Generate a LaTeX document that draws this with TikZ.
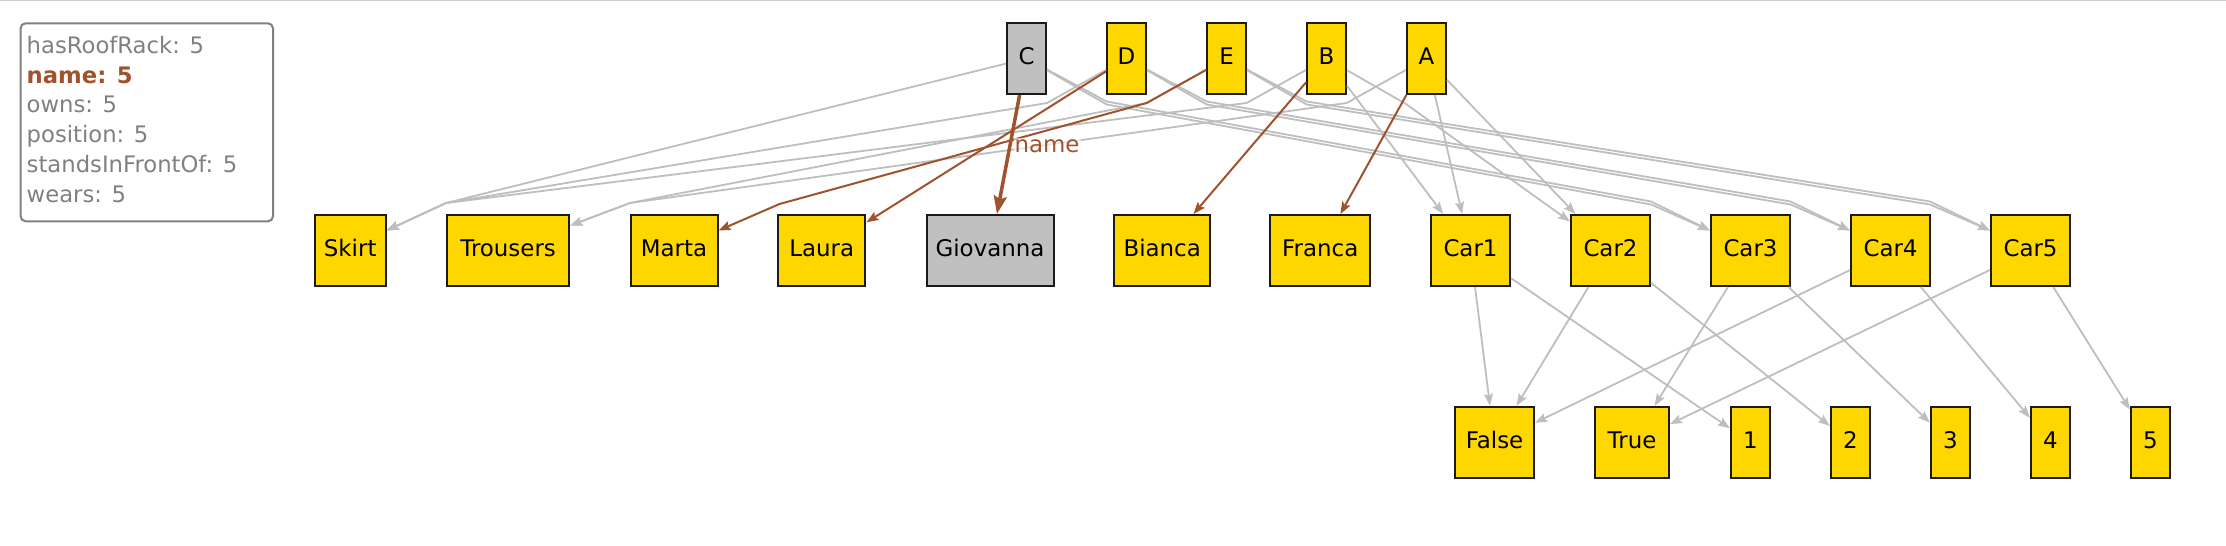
\documentclass[tikz,border=0pt]{standalone}
\usepackage{fontspec}
\setmainfont{DejaVu Sans}
\usetikzlibrary{arrows.meta}
\definecolor{gold}{HTML}{FFD700}
\definecolor{nodegray}{HTML}{C0C0C0}
\definecolor{boxline}{HTML}{1A1A1A}
\definecolor{edgegray}{HTML}{BEBEBE}
\definecolor{sienna}{HTML}{A0522D}
\definecolor{legendgray}{HTML}{808080}
\definecolor{topgray}{HTML}{CCCCCC}

\begin{document}
\begin{tikzpicture}[x=1bp,y=-1bp,
		box/.style={draw=boxline, line width=2bp, fill=gold, inner sep=0pt, minimum height=71bp,
			font=\fontsize{23}{27}\selectfont, text height=17bp, text depth=5bp},
		gedge/.style={draw=edgegray, line width=1.8bp, -{Stealth[length=12bp,width=9bp,inset=2bp]}},
		nedge/.style={draw=sienna, line width=2bp, -{Stealth[length=12bp,width=9bp,inset=2bp]}},
		legendtext/.style={anchor=west, inner sep=0pt, text=legendgray,
			font=\fontsize{22.8}{27}\selectfont, text height=17bp, text depth=5bp}]
	\useasboundingbox (0,0) rectangle (2226,546);
	\draw[topgray, line width=1.5bp] (0,0.75) -- (2226,0.75);

	% legend
	\node[draw=legendgray, line width=2bp, rounded corners=5bp, minimum width=252.4bp,
		minimum height=198bp, inner sep=0pt] (legend) at (146.8,122.3) {};
	\foreach \t/\yy [count=\i] in {hasRoofRack: 5/48, owns: 5/107, position: 5/137,
			standsInFrontOf: 5/167, wears: 5/197}
		\node[legendtext] (leg\i) at (26.5,\yy) {\t};
	\node[legendtext, text=sienna, font=\fontsize{22.8}{27}\selectfont\bfseries] (legname) at (26.5,78) {name: 5};

	% persons
	\node[box, fill=nodegray, minimum width=39bp] (C) at (1026.5,58.5) {C};
	\foreach \p [count=\i] in {D,E,B,A}
		\node[box, minimum width=39bp] (\p) at ({1026.5+100*\i},58.5) {\p};

	% names and clothes
	\foreach \w/\xx/\ww in {Skirt/350.2/71, Trousers/508.1/122.4, Marta/674/87, Laura/821.7/87.4,
			Bianca/1162.2/95.5, Franca/1320.2/99.5}
		\node[box, minimum width=\ww bp] (\w) at (\xx,250.5) {\w};
	\node[box, fill=nodegray, minimum width=127bp] (Giovanna) at (990,250.5) {Giovanna};

	% cars
	\foreach \c in {1,...,5}
		\node[box, minimum width=79bp] (Car\c) at ({1330.5+140*\c},250.5) {Car\c};

	% values
	\node[box, minimum width=79bp] (False) at (1494.5,442.3) {False};
	\node[box, minimum width=74bp] (True) at (1632,442.3) {True};
	\foreach \n in {1,...,5}
		\node[box, minimum width=39bp] (n\n) at ({1650.3+100*\n},442.3) {\n};

	% junctions above the middle row
	\coordinate (skirtin) at (446,203);
	\coordinate (trousin) at (630,203);

	% wears
	\draw[gedge] (C) -- (skirtin) -- ([yshift=20bp]Skirt.east);
	\draw[gedge] (D) -- (1047,103) -- (skirtin) -- ([yshift=20bp]Skirt.east);
	\draw[gedge] (B) -- (1246.7,103) -- (skirtin) -- ([yshift=20bp]Skirt.east);
	\draw[gedge] (E) -- (1146.7,103) -- (trousin) -- ([yshift=25bp]Trousers.east);
	\draw[gedge] (A) -- (1346.7,103) -- (trousin) -- ([yshift=25bp]Trousers.east);

	% owns and standsInFrontOf
	\foreach \p/\bx/\c/\cx in {C/1106.7/3/1651, D/1206.7/4/1790.6, E/1306.7/5/1930}{
		\draw[gedge] (\p) -- (\bx,101.5) -- (\cx,201.5) -- ([yshift=20bp]Car\c.west);
		\draw[gedge] (\p) -- (\bx,104.5) -- (\cx,204.5) -- ([yshift=20bp]Car\c.west);
	}
	\draw[gedge] (B) -- (Car1);
	\draw[gedge] (B) -- (1406,104) -- (Car2);
	\draw[gedge] (A) -- (Car1);
	\draw[gedge] (A) -- (Car2);

	% hasRoofRack and position
	\foreach \c/\v in {1/False,2/False,3/True,4/False,5/True}{
		\draw[gedge] (Car\c) -- (\v);
		\draw[gedge] (Car\c) -- (n\c);
	}

	% name
	\draw[nedge] (D) -- (Laura);
	\draw[nedge] (E) -- (1146.7,103) -- (779.5,204) -- ([yshift=20bp]Marta.east);
	\draw[nedge] (B) -- (Bianca);
	\draw[nedge] (A) -- (Franca);
	\draw[nedge, line width=3.5bp, -{Stealth[length=18bp,width=13bp,inset=3bp]}] (C) -- (Giovanna);
	\node[text=sienna, font=\fontsize{23}{27}\selectfont, fill=white, fill opacity=0.6,
		text opacity=1, inner sep=1bp] (namelbl) at (1047,146) {name};
\end{tikzpicture}
\end{document}
